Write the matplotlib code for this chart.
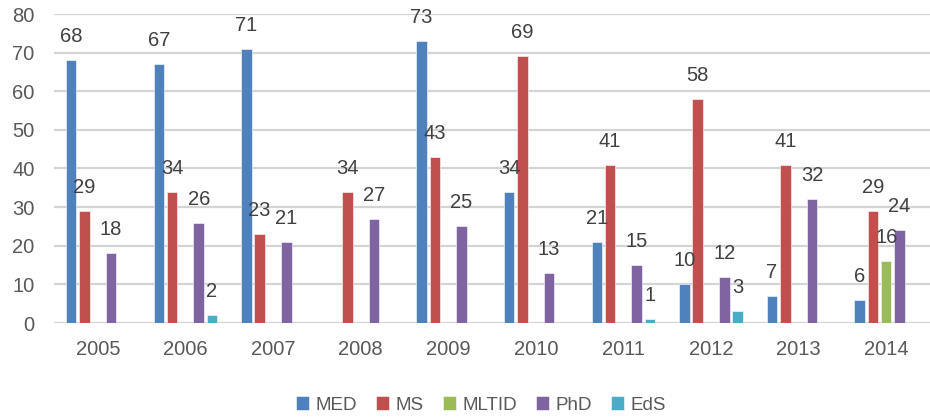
import matplotlib
matplotlib.use("Agg")
import matplotlib.pyplot as plt
import numpy as np

years = ["2005", "2006", "2007", "2008", "2009", "2010", "2011", "2012", "2013", "2014"]
series_names = ["MED", "MS", "MLTID", "PhD", "EdS"]
med = [68, 67, 71, 0, 73, 34, 21, 10, 7, 6]
ms = [29, 34, 23, 34, 43, 69, 41, 58, 41, 29]
mltid = [0, 0, 0, 0, 0, 0, 0, 0, 0, 16]
phd = [18, 26, 21, 27, 25, 13, 15, 12, 32, 24]
eds = [0, 2, 0, 0, 0, 0, 1, 3, 0, 0]
colors = ["#4F81BD", "#C0504D", "#9BBB59", "#8064A2", "#4BACC6"]
yticks = [0, 10, 20, 30, 40, 50, 60, 70, 80]

plt.rcParams['font.family'] = ['Liberation Sans', 'DejaVu Sans']
txt = "#595959"

fig = plt.figure(figsize=(9.30, 4.19), dpi=100)
ax = fig.add_axes([54/930, 96/419, 876/930, 309/419])

x = np.arange(len(years))
step = 0.152
width = 0.12
data = [med, ms, mltid, phd, eds]
handles = []
for i, (name, vals, c) in enumerate(zip(series_names, data, colors)):
    pos = x + (i - 2) * step
    b = ax.bar(pos, vals, width=width, color=c, edgecolor="white", linewidth=0.4, label=name, zorder=3)
    handles.append(b)
    for px, v in zip(pos, vals):
        if v:
            ax.annotate(str(v), (px, v), xytext=(0, 13), textcoords="offset points",
                        ha="center", va="baseline", fontsize=14.5, color="#404040", zorder=4)

ax.set_xlim(-0.5, len(years) - 0.5)
ax.set_ylim(0, 80)
ax.set_yticks(yticks)
ax.set_yticklabels([str(t) for t in yticks])
ax.set_xticks(x)
ax.set_xticklabels(years)
ax.tick_params(axis="both", length=0, labelsize=14.5, colors=txt)
ax.tick_params(axis="y", pad=14)
ax.tick_params(axis="x", pad=12)
for s in ax.spines.values():
    s.set_visible(False)
ax.yaxis.grid(True, color="#D4D4D4", linewidth=1.6, zorder=0)
ax.set_axisbelow(True)

leg = fig.legend(handles=handles, labels=series_names, loc="center", bbox_to_anchor=(481/930, 1 - 405/419),
                 ncol=5, frameon=False, fontsize=13.5, handlelength=0.7, handleheight=0.7,
                 handletextpad=0.35, columnspacing=1.0, labelcolor=txt)

fig.savefig("out.png", dpi=100)
